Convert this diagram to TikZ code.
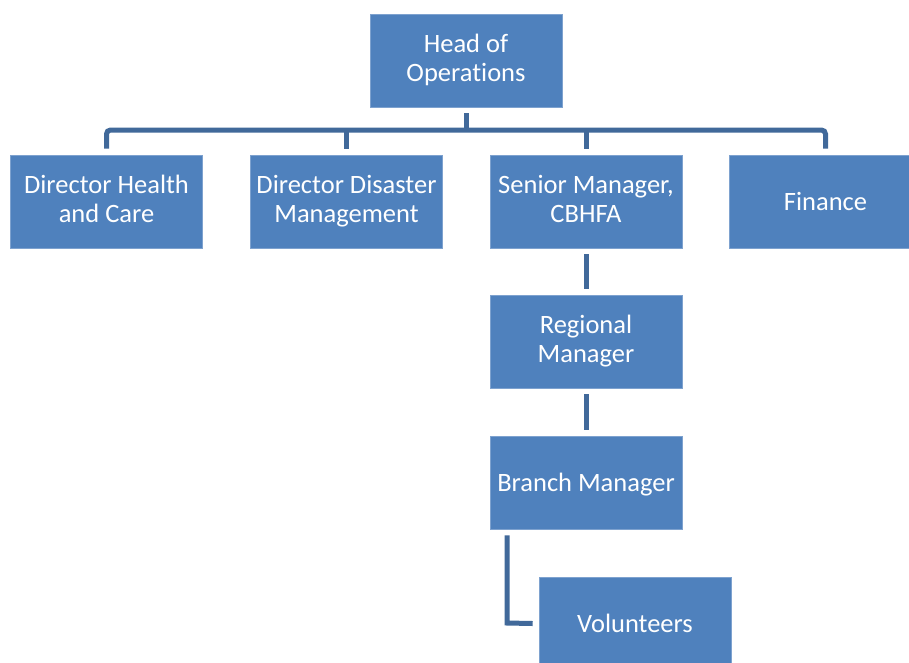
\documentclass[tikz,border=0pt]{standalone}
\usepackage{fontspec}
\setmainfont[Ligatures=NoCommon]{Carlito}
\usetikzlibrary{calc}
\definecolor{boxfill}{HTML}{4F81BD}
\definecolor{boxedge}{HTML}{7EA2CF}
\definecolor{linkcol}{HTML}{41699A}
% uniform line box so every label sits at the same height
\newcommand\labelstrut{\rule[-5pt]{0pt}{28.5pt}}
\begin{document}
\begin{tikzpicture}[x=1pt,y=-1pt,
  unit/.style={draw=boxedge, line width=0.6pt, fill=boxfill, text=white,
    minimum width=192pt, minimum height=93pt, align=center, inner sep=2pt,
    font=\fontsize{26.5}{28.5}\selectfont,
    execute at begin node={\labelstrut}, execute at end node={\labelstrut}},
  link/.style={draw=linkcol, line width=5pt}]
\useasboundingbox (0,0) rectangle (909,662);
\clip (0,0) rectangle (909,662);
\fill[white] (0,0) rectangle (909,662);

% boxes
\node[unit] (head) at (466,60.5) {Head of\\Operations};
\node[unit] (dhc)  at (106.5,201.5) {Director Health\\and Care};
\node[unit] (ddm)  at (346.5,201.5) {Director Disaster\\Management};
\node[unit] (sm)   at (586,201.5) {Senior Manager,\\CBHFA};
\node[unit] (fin)  at (825.5,201.5) {Finance};
\node[unit] (rm)   at (586,341.5) {Regional\\Manager};
\node[unit] (bm)   at (586,482.5) {Branch Manager};
\node[unit] (vol)  at (635,623.5) {Volunteers};

% top-level bus
\coordinate (bar) at (466,130);
\draw[link] ($(head.south)+(0,6)$) -- (head.south |- bar);
\draw[link, rounded corners=4pt] ($(dhc.north)+(0,-6)$) -- (dhc.north |- bar)
  -- (fin.north |- bar) -- ($(fin.north)+(0,-6)$);
\draw[link] (ddm.north |- bar) -- ($(ddm.north)+(0,-6)$);
\draw[link] (sm.north |- bar) -- ($(sm.north)+(0,-6)$);

% vertical chain
\draw[link] ($(sm.south)+(0,6)$) -- ($(rm.north)+(0,-6)$);
\draw[link] ($(rm.south)+(0,6)$) -- ($(bm.north)+(0,-6)$);

% branch to volunteers
\coordinate (bend) at (507,623);
\draw[link] ($(bm.south -| bend)+(0,6)$) -- (bend) -- ($(vol.west)+(-6,0)$);
\end{tikzpicture}
\end{document}
